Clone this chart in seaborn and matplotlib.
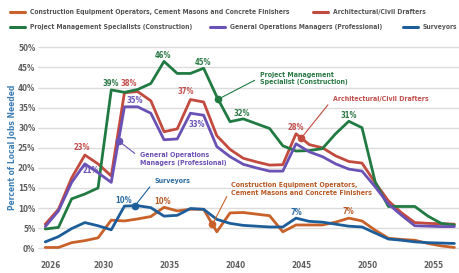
import numpy as np
import pandas as pd
import matplotlib
matplotlib.use("Agg")
import matplotlib.pyplot as plt
from matplotlib.lines import Line2D
import seaborn as sns

# ---- data (percent of local jobs needed) ----
years = list(range(2026, 2058))

construction_equipment = [0.2, 0.2, 1.4, 1.9, 2.6, 7.0, 6.8, 7.3, 7.9, 10.2, 9.3, 9.7, 9.7, 4.1, 8.8, 8.9,
                          8.5, 8.1, 4.1, 5.8, 5.8, 5.8, 6.5, 7.5, 6.8, 4.5, 2.5, 2.2, 2.0, 1.2, 0.6, 0.2]
arch_drafters = [6.0, 9.7, 17.5, 23.2, 21.0, 18.0, 38.7, 39.0, 36.7, 29.0, 29.7, 37.0, 36.4, 28.0, 24.6, 22.4,
                 21.5, 20.7, 20.8, 28.5, 25.8, 25.0, 23.0, 21.6, 21.2, 16.3, 11.8, 8.8, 6.4, 6.2, 6.1, 6.0]
project_mgmt = [4.8, 5.2, 12.3, 13.5, 15.0, 39.4, 38.8, 39.5, 41.0, 46.5, 43.5, 43.5, 44.8, 37.7, 31.5, 32.2,
                31.0, 29.8, 25.5, 24.2, 24.3, 24.8, 28.5, 31.6, 30.0, 16.5, 10.4, 10.4, 10.4, 8.0, 6.2, 5.8]
general_ops = [5.4, 9.3, 16.4, 21.0, 18.8, 16.4, 35.2, 35.2, 33.6, 27.0, 27.2, 33.6, 33.1, 25.3, 22.8, 20.9,
               20.0, 19.2, 19.2, 26.0, 24.0, 22.8, 21.0, 19.7, 19.2, 15.3, 11.0, 8.2, 5.6, 5.5, 5.4, 5.4]
surveyors = [1.6, 2.9, 4.9, 6.4, 5.6, 4.6, 10.5, 10.6, 10.1, 8.0, 8.2, 9.9, 9.7, 7.2, 6.2, 5.7,
             5.5, 5.3, 5.3, 7.5, 6.7, 6.5, 6.0, 5.5, 5.3, 3.8, 2.3, 2.0, 1.6, 1.4, 1.3, 1.2]

series_names = [
    "Construction Equipment Operators, Cement Masons and Concrete Finishers",
    "Architectural/Civil Drafters",
    "Project Management Specialists (Construction)",
    "General Operations Managers (Professional)",
    "Surveyors",
]
series_values = [construction_equipment, arch_drafters, project_mgmt, general_ops, surveyors]
colors = ["#c8622a", "#c24a3f", "#217a42", "#6a51b5", "#1d5e9a"]
text_colors = ["#b85a26", "#c0504d", "#2b7a45", "#6a51b5", "#2a6aa0"]

x_ticks = [2026, 2030, 2035, 2040, 2045, 2050, 2055]
y_ticks = list(range(0, 51, 5))

# callout labels: (series index, callout text, x where the dot sits, text x, text y)
callouts = [
    (2, "Project Management\nSpecialist (Construction)", 2038.7, 2041.9, 42.2),
    (1, "Architectural/Civil Drafters", 2045.0, 2047.4, 37.1),
    (3, "General Operations\nManagers (Professional)", 2031.15, 2032.8, 22.2),
    (4, "Surveyors", 2032.4, 2033.9, 16.7),
    (0, "Construction Equipment Operators,\nCement Masons and Concrete Finishers", 2038.27, 2039.7, 14.75),
]

# value labels: (series index, point index, text, dx px, dy px)
value_labels = [
    (2, 5, "39%", -1, 6), (1, 6, "38%", 4, 9), (3, 7, "35%", -3, 6),
    (2, 9, "46%", -1, 6), (2, 12, "45%", -1, 6), (1, 11, "37%", -5, 8),
    (3, 11, "33%", 6, -11), (2, 15, "32%", -1, 5), (1, 19, "28%", 0, 6),
    (2, 23, "31%", 0, 6), (1, 3, "23%", -3, 8), (3, 3, "21%", 6, -7),
    (4, 6, "10%", -1, 6), (0, 9, "10%", -1, 6), (4, 19, "7%", 0, 6),
    (0, 23, "7%", 0, 7),
]

# data points sit slightly left of each year tick in the source chart
x_pos = np.array(years) - 0.4

df = pd.DataFrame({"x": np.tile(x_pos, len(series_names)),
                   "value": np.concatenate(series_values),
                   "series": np.repeat(series_names, len(years))})

sns.set_theme(style="white")
plt.rcParams["font.family"] = ["DejaVu Sans"]
plt.rcParams["font.stretch"] = "condensed"
plt.rcParams["font.weight"] = "bold"

fig = plt.figure(figsize=(4.59, 2.73), dpi=100)
ax = fig.add_axes([38 / 459, 20.7 / 273, 1 - 38 / 459, 209 / 273])

for y in y_ticks:
    ax.axhline(y, color="#dcdcdc", lw=1.0, zorder=0)

sns.lineplot(data=df, x="x", y="value", hue="series", hue_order=series_names,
             palette=colors, linewidth=2.0, legend=False, ax=ax, zorder=3)

for si, txt, dot_x, tx, ty in callouts:
    dot_y = np.interp(dot_x, x_pos, series_values[si])
    ax.plot(dot_x, dot_y, "o", color=colors[si], ms=4.5, zorder=4)
    ax.annotate(txt, xy=(dot_x, dot_y), xytext=(tx, ty), ha="left", va="center",
                fontsize=5, fontweight="bold", color=text_colors[si], linespacing=1.3,
                arrowprops=dict(arrowstyle="-", color=colors[si], lw=0.8,
                                relpos=(0, 0.6), shrinkA=2, shrinkB=0))

for si, pi, txt, dx, dy in value_labels:
    ax.annotate(txt, xy=(x_pos[pi], series_values[si][pi]), xytext=(dx, dy),
                textcoords="offset pixels", ha="center", va="center",
                fontsize=5.5, fontweight="bold", color=text_colors[si])

ax.set_xlim(2025.05, 2056.95)
ax.set_ylim(-1, 51)
ax.set_xticks(x_ticks)
ax.set_xticklabels([str(t) for t in x_ticks])
ax.set_yticks(y_ticks)
ax.set_yticklabels([f"{t}%" for t in y_ticks])
ax.tick_params(axis="both", labelsize=5.8, labelcolor="#5e5e5e", pad=2)
ax.tick_params(axis="x", length=4, color="#c8c8c8", width=0.8, direction="out")
ax.tick_params(axis="y", length=0)
for s in ax.spines.values():
    s.set_visible(False)

ax.set_xlabel("Years", fontsize=6.5, fontweight="bold", color="#3f7fb5")
ax.xaxis.set_label_coords((232 - 38) / 421, -0.16)
ax.set_ylabel("Percent of Local Jobs Needed", fontsize=6, fontweight="bold", color="#3f7fb5")
ax.yaxis.set_label_coords(-0.049, 0.5)

# legend rows drawn by hand to match the two-row layout of the source
legend_items = [
    (0, 10, 12), (1, 313, 12),
    (2, 10, 27), (3, 210, 27), (4, 403, 27),
]
for si, px, py in legend_items:
    yf = 1 - py / 273
    fig.add_artist(Line2D([px / 459, (px + 15) / 459], [yf, yf], color=colors[si], lw=2.2))
    fig.text((px + 20) / 459, yf, series_names[si], fontsize=4.9, fontweight="bold",
             color="#555555", va="center", ha="left")

fig.savefig("out.png", dpi=100, facecolor="white")
